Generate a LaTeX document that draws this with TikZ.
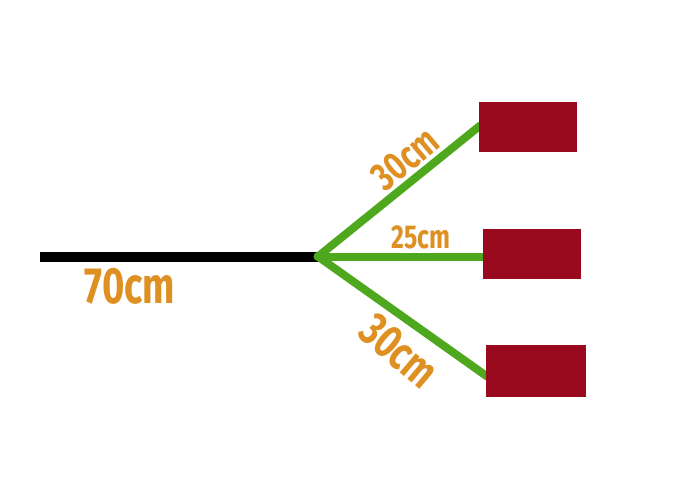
\documentclass[tikz,border=0pt]{standalone}
\usepackage{fontspec}
\setmainfont{Fira Sans}[FakeStretch=0.75]
\usetikzlibrary{calc,backgrounds}
\definecolor{boxred}{HTML}{990A1E}
\definecolor{wiregreen}{HTML}{4EA81E}
\definecolor{labelorange}{HTML}{DE9022}
\begin{document}
\begin{tikzpicture}[x=1pt,y=-1pt,
  target/.style={fill=boxred,draw=none,minimum width=98pt,minimum height=50pt,inner sep=0pt},
  mainwire/.style={draw=black,line width=10pt},
  branch/.style={draw=wiregreen,line width=8pt},
  lab/.style={text=labelorange,inner sep=0pt,font=\bfseries}]
\useasboundingbox (0,0) rectangle (691,498);
\coordinate (start) at (40,256.5);
\coordinate (junc) at (318,256.5);
\node[target] (b1) at (528,127) {};
\node[target] (b2) at (531.5,254) {};
\node[target,minimum width=100pt,minimum height=52pt] (b3) at (536,371) {};
\begin{scope}[on background layer]
\fill[white] (0,0) rectangle (691,498);
\draw[mainwire] (start) -- (junc);
\draw[branch] (junc) -- ([yshift=2pt,xshift=2pt]b1.west);
\draw[branch] (junc) -- ([xshift=2pt]b2.west |- junc);
\draw[branch] (junc) -- ([yshift=-6pt,xshift=2pt]b3.west);
\fill[wiregreen] (junc) circle (4.5pt);
\end{scope}
\node[lab,font=\bfseries\fontsize{51}{51}\selectfont] (l70) at (130,286) {70cm};
\node[lab,font=\bfseries\fontsize{33}{33}\selectfont] (l25) at (421,237) {25cm};
\node[lab,font=\bfseries\fontsize{40}{40}\selectfont,rotate=40] (l30a) at (405,159) {30cm};
\node[lab,font=\bfseries\fontsize{47}{47}\selectfont,rotate=-40] (l30b) at (399,351) {30cm};
\end{tikzpicture}
\end{document}
